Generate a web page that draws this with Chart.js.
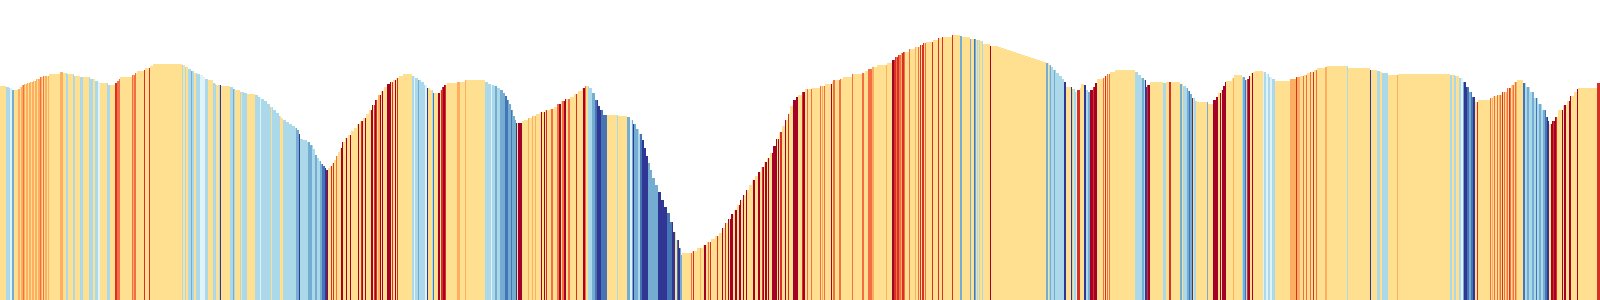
<!DOCTYPE html>
<html>
<head>
<meta charset="utf-8">
<script src="https://cdn.jsdelivr.net/npm/chart.js@4"></script>
<style>
  html, body { margin: 0; padding: 0; background: #fff; }
  #wrap { width: 1600px; height: 300px; }
</style>
</head>
<body>
<div id="wrap"><canvas id="chart"></canvas></div>
<script>
// number of daily bars
const N_BARS = 1600;

// stripe palette (RdYlBu), cold -> warm
const PALETTE = ['#313695', '#4575b4', '#74add1', '#abd9e9', '#e0f3f8',
                 '#fee090', '#fdae61', '#f46d43', '#d73027', '#a50026'];

// [first bar index, bar value] - value holds until the next entry
const heightSteps = [
  [0,214],[6,213],[9,212],[12,210],[18,211],[20,213],[22,215],[24,216],[27,217],[30,218],
  [33,219],[36,221],[40,223],[43,224],[49,226],[60,228],[63,227],[67,226],[74,224],[80,223],
  [90,221],[95,219],[98,218],[100,217],[108,215],[115,217],[117,219],[119,221],[120,223],[132,225],
  [135,227],[137,229],[144,230],[145,232],[150,234],[153,236],[182,235],[185,233],[188,231],[191,229],
  [194,227],[197,226],[200,225],[203,223],[205,221],[208,220],[213,217],[215,216],[216,215],[221,214],
  [230,213],[233,211],[235,210],[240,208],[244,207],[247,206],[255,205],[258,203],[261,201],[264,199],
  [267,196],[270,193],[273,190],[276,187],[279,184],[281,182],[283,180],[286,178],[289,176],[292,174],
  [295,172],[297,170],[299,166],[300,161],[303,160],[307,158],[310,155],[313,151],[315,145],[317,142],
  [319,139],[321,136],[323,134],[325,132],[326,130],[328,132],[330,134],[332,137],[334,140],[336,144],
  [338,148],[340,152],[342,158],[345,162],[348,165],[351,169],[354,172],[357,176],[360,179],[363,182],
  [366,186],[369,190],[372,195],[375,200],[378,205],[381,209],[384,213],[387,216],[390,218],[393,220],
  [396,222],[399,224],[403,226],[412,224],[415,222],[418,220],[421,218],[424,215],[427,212],[430,210],
  [433,207],[440,210],[442,213],[444,215],[447,217],[457,218],[465,220],[485,218],[488,216],[491,215],
  [494,214],[497,212],[500,210],[503,207],[505,204],[507,200],[509,196],[511,190],[513,184],[515,180],
  [516,177],[522,179],[524,180],[528,182],[532,184],[536,186],[540,188],[545,190],[550,191],[554,193],
  [557,196],[561,199],[565,201],[570,203],[574,206],[578,209],[582,212],[585,214],[589,212],[592,207],
  [595,200],[598,194],[600,190],[603,185],[618,184],[627,183],[630,180],[633,176],[636,171],[639,166],
  [642,160],[644,152],[646,144],[648,137],[650,130],[652,122],[655,115],[658,108],[661,100],[664,93],
  [667,87],[670,78],[673,68],[676,60],[679,52],[681,45],[682,47],[692,49],[697,52],[703,55],
  [707,58],[711,61],[715,64],[719,67],[722,72],[725,77],[728,81],[731,86],[734,90],[737,95],
  [740,100],[743,105],[746,110],[749,115],[752,120],[755,124],[758,128],[761,133],[764,138],[767,142],
  [770,147],[773,154],[776,161],[779,168],[782,174],[785,180],[788,186],[790,194],[793,200],[796,203],
  [798,205],[802,208],[805,211],[812,212],[820,214],[825,216],[832,218],[833,220],[840,221],[843,223],
  [852,226],[862,227],[865,229],[868,231],[872,233],[877,235],[887,237],[892,240],[895,243],[898,245],
  [901,247],[903,248],[909,251],[915,253],[920,255],[923,257],[926,258],[933,260],[938,262],[942,263],
  [952,265],[960,264],[962,263],[970,261],[976,260],[980,259],[983,256],[990,254],[998,253],[1001,252],
  [1004,251],[1007,250],[1010,249],[1013,248],[1016,247],[1019,246],[1022,245],[1025,244],[1028,243],[1031,242],
  [1034,241],[1037,240],[1040,239],[1043,238],[1046,237],[1049,235],[1051,233],[1053,230],[1056,227],[1059,224],
  [1062,221],[1064,218],[1066,213],[1072,211],[1075,208],[1077,210],[1080,212],[1081,216],[1084,215],[1086,210],
  [1088,208],[1090,210],[1093,213],[1095,217],[1097,221],[1103,222],[1105,224],[1107,226],[1110,228],[1115,230],
  [1135,228],[1138,225],[1141,222],[1144,220],[1146,213],[1147,215],[1150,218],[1163,217],[1166,218],[1180,216],
  [1183,214],[1186,212],[1188,209],[1190,206],[1192,202],[1195,199],[1197,198],[1208,196],[1213,200],[1216,203],
  [1218,207],[1221,210],[1223,214],[1225,218],[1226,219],[1232,222],[1234,225],[1242,223],[1245,220],[1247,221],
  [1249,224],[1251,227],[1253,228],[1255,229],[1263,228],[1266,226],[1269,223],[1272,221],[1275,219],[1290,221],
  [1296,223],[1300,224],[1304,225],[1307,227],[1310,228],[1314,230],[1317,232],[1325,233],[1327,234],[1348,232],
  [1370,230],[1377,229],[1380,228],[1382,227],[1388,225],[1398,226],[1450,225],[1455,224],[1459,222],[1463,218],
  [1466,213],[1469,208],[1472,203],[1475,198],[1478,200],[1490,202],[1493,204],[1497,205],[1502,208],[1507,212],
  [1511,215],[1514,218],[1517,220],[1523,217],[1526,213],[1530,208],[1534,202],[1538,196],[1542,190],[1546,183],
  [1548,179],[1549,176],[1552,179],[1555,183],[1558,190],[1563,195],[1567,199],[1570,204],[1574,208],[1577,211],
  [1578,212],[1597,217]
];

// [first bar index, palette class] - class holds until the next entry
const colorSteps = [
  [0,5],[6,3],[10,4],[12,2],[14,5],[18,6],[20,5],[21,6],[23,7],[24,6],[25,5],[26,6],[28,5],[29,6],[31,5],
  [32,6],[34,5],[35,6],[37,5],[38,6],[40,7],[41,6],[42,5],[43,7],[44,5],[45,6],[47,5],[48,6],[49,5],[60,6],
  [63,5],[66,3],[68,5],[73,3],[75,5],[80,3],[83,5],[89,3],[93,5],[95,3],[98,4],[100,5],[107,3],[110,5],
  [115,8],[117,7],[120,5],[132,7],[133,6],[134,7],[136,5],
  [144,8],[145,5],[149,8],[150,5],[182,3],[183,5],[185,3],[186,5],[188,3],[191,2],[192,3],[194,5],[196,3],
  [200,4],[205,3],[208,5],[213,3],[216,5],[219,3],[220,0],[221,5],[230,3],[233,2],[234,3],[235,5],[240,3],
  [241,5],[242,3],[247,5],[255,3],[260,4],[261,3],[271,5],[272,3],[280,5],[283,3],[296,2],[299,0],[300,3],
  [308,2],[312,3],[315,2],[317,3],[320,2],[322,1],[325,0],[327,9],[328,5],[331,8],[332,5],[333,8],[334,5],
  [336,7],[337,5],[341,9],[343,5],[346,9],[347,5],[350,9],[351,5],[358,9],[359,5],[361,8],[362,9],[363,5],
  [365,9],[366,5],[371,9],[373,5],[374,8],[375,9],[376,8],[377,5],[378,6],[380,9],[381,5],[382,9],[383,5],
  [387,9],[391,5],[392,8],[393,5],[395,9],[396,5],[397,8],[398,5],[412,3],[414,4],[415,3],[418,2],[419,3],
  [425,4],[427,0],[428,5],[432,3],[433,1],[434,5],[438,9],[440,5],[441,8],[443,9],[445,8],[446,5],[457,6],
  [460,5],[465,6],[466,5],[485,3],[491,4],[492,3],[495,2],[497,3],[500,2],[505,1],[508,2],[511,1],[512,2],
  [516,0],[517,5],[518,9],[522,5],[528,6],[529,5],[532,6],[533,5],[535,6],[536,5],[541,9],[542,5],[544,9],
  [545,5],[546,8],[547,5],[551,7],[553,5],[557,7],[559,9],[561,5],[562,7],[564,9],[566,5],[568,7],[570,5],
  [576,8],[577,5],[583,9],[585,7],[586,5],[588,3],[592,2],[595,1],[597,0],[601,1],[607,5],[617,3],[618,5],
  [627,2],[630,4],[632,2],[633,0],[634,2],[638,3],[640,1],[642,0],[648,2],[658,0],[667,1],[672,0],[675,5],
  [677,1],[678,0],[680,2],[682,5],[691,7],[692,5],[693,8],[694,5],[700,6],[701,5],[704,9],[706,5],[708,7],
  [709,5],[710,8],[711,5],[717,8],[718,5],[722,9],[723,5],[725,8],[726,5],[728,9],[729,5],[730,9],[733,5],
  [735,9],[737,5],[739,9],[741,5],[743,9],[744,5],[746,9],[747,5],[753,9],[755,5],[758,9],[760,5],[762,8],
  [763,9],[764,5],[765,9],[767,5],[768,9],[769,5],[772,9],[777,5],[778,9],[779,5],[780,8],[782,5],[785,9],
  [786,5],[788,8],[789,5],[793,9],[798,5],[802,8],[803,9],[805,5],[807,7],[808,5],[811,7],[812,5],[820,7],
  [821,5],[822,6],[823,5],[824,7],[825,5],[831,9],[832,5],[833,7],[835,5],[839,7],[841,5],[852,7],[853,5],
  [862,7],[864,5],[868,7],[872,6],[874,5],[886,6],[887,5],[892,9],[894,8],[896,7],[897,8],[899,7],[901,6],
  [902,8],[904,7],[905,5],[909,7],[910,5],[915,6],[916,5],[918,7],[919,5],[920,8],[921,5],[922,8],[924,5],[925,7],
  [926,5],[932,8],[933,5],[938,8],[939,5],[942,8],[943,5],[952,8],[953,5],[960,2],[962,5],[970,2],[971,5],
  [974,1],[975,2],[976,5],[977,3],[978,5],[979,3],[980,5],[982,3],[983,5],[990,9],[991,5],[1046,2],[1048,5],
  [1049,3],[1050,2],[1051,3],[1054,2],[1055,3],[1064,0],[1066,5],[1071,0],[1072,3],[1073,5],[1074,3],[1076,4],
  [1077,8],[1080,5],[1084,0],[1086,3],[1088,2],[1090,9],[1093,8],[1094,9],[1097,5],[1103,7],[1104,5],[1105,8],
  [1106,5],[1107,7],[1108,5],[1109,7],[1110,5],[1135,3],[1142,2],[1144,3],[1145,0],[1147,8],[1148,9],[1150,5],
  [1163,3],[1166,5],[1169,8],[1171,5],[1180,2],[1182,5],[1183,3],[1187,2],[1189,1],[1190,2],[1192,0],[1193,5],
  [1194,3],[1196,5],[1207,2],[1208,5],[1213,9],[1218,5],[1220,9],[1221,5],[1222,9],[1226,5],[1233,6],[1234,5],
  [1242,3],[1243,2],[1245,1],[1246,3],[1247,8],[1248,9],[1250,5],[1252,9],[1253,5],[1263,4],[1264,3],[1266,4],
  [1268,3],[1270,4],[1272,3],[1275,5],[1290,6],[1296,8],[1297,6],[1300,5],[1303,7],[1304,5],[1306,7],[1307,5],
  [1310,7],[1311,5],[1313,8],[1314,5],[1316,7],[1317,5],[1325,6],[1327,5],[1347,3],[1348,5],[1370,0],[1371,5],
  [1377,3],[1380,5],[1382,3],[1388,5],[1397,6],[1398,5],[1450,3],[1452,5],[1454,3],[1456,5],[1459,3],[1461,4],
  [1463,2],[1464,0],[1467,1],[1469,2],[1471,1],[1473,0],[1475,5],[1477,8],[1478,5],[1490,7],[1491,5],[1492,6],
  [1493,5],[1494,7],[1495,5],[1497,7],[1498,5],[1499,6],[1500,7],[1501,5],[1502,8],[1503,5],[1504,7],[1505,5],
  [1506,6],[1507,7],[1508,5],[1509,8],[1510,7],[1511,5],[1512,6],[1513,7],[1514,5],[1515,7],[1516,6],
  [1517,5],[1523,1],[1525,3],[1527,2],[1529,3],[1532,2],[1534,3],[1536,1],[1537,3],[1539,2],[1541,3],[1543,2],
  [1545,1],[1547,0],[1549,5],[1551,9],[1553,8],[1554,9],[1556,8],[1557,5],[1562,9],[1563,5],[1564,9],[1566,5],
  [1569,9],[1571,5],[1577,9],[1578,5],[1597,8]
];

// turn the step lists into one value per bar
function unrollSteps(steps, n) {
    const out = [];
    for (let k = 0; k < steps.length; k++) {
        const end = k + 1 < steps.length ? steps[k + 1][0] : n;
        for (let i = steps[k][0]; i < end; i++) out.push(steps[k][1]);
    }
    return out;
}

const labels = Array.from({length: N_BARS}, (_, i) => i + 1);
const values = unrollSteps(heightSteps, N_BARS);
const classes = unrollSteps(colorSteps, N_BARS);

const config = {
    type: 'bar',
    data: {
        labels: labels,
        datasets: [{
            data: values,
            backgroundColor: classes.map(c => PALETTE[c]),
            borderWidth: 0,
            inflateAmount: 0,
            barPercentage: 1,
            categoryPercentage: 1
        }]
    },
    options: {
        responsive: true,
        maintainAspectRatio: false,
        animation: false,
        layout: { padding: 0 },
        plugins: {
            legend: { display: false },
            tooltip: { enabled: false }
        },
        scales: {
            x: { display: false },
            y: { display: false, min: 0, max: 300 }
        }
    }
};

new Chart(document.getElementById('chart'), config);
</script>
</body>
</html>
